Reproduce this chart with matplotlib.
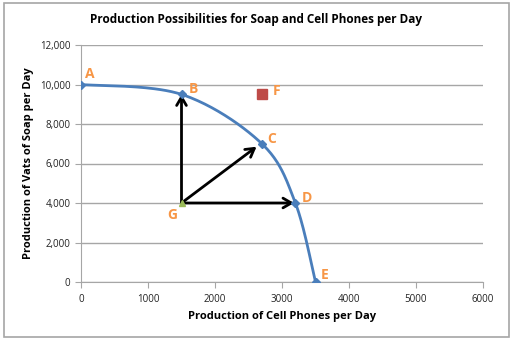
import numpy as np
import matplotlib
matplotlib.use("Agg")
import matplotlib.pyplot as plt
from matplotlib.patches import Rectangle
from matplotlib.ticker import FuncFormatter

# Data
ppf_labels = ["A", "B", "C", "D", "E"]
phones = [0, 1500, 2700, 3200, 3500]
soap = [10000, 9500, 7000, 4000, 0]
f_point = (2700, 9500)
g_point = (1500, 4000)
arrow_targets = [(1500, 9500), (2620, 6850), (3180, 4000)]

label_offsets = {"A": (9, 10), "B": (12, 5), "C": (10, 5), "D": (11, 5), "E": (9, 7)}

plt.rcParams['font.family'] = ['Open Sans', 'DejaVu Sans']

fig = plt.figure(figsize=(5.12, 3.59), dpi=100)
fig.patches.append(Rectangle((4/512, 1-337/359), 505/512, 334/359, transform=fig.transFigure,
                             fill=False, edgecolor='#A6A6A6', lw=1.2))
ax = fig.add_axes([81/512, 1-282/359, 402/512, 237/359])

# smooth curve (Bezier smoothing like Excel)
def smooth(xs, ys, n=40, t=0.5):
    xs = np.asarray(xs, float); ys = np.asarray(ys, float)
    P = np.column_stack([xs, ys])
    out = []
    for i in range(len(P)-1):
        p0 = P[i-1] if i > 0 else P[i]
        p1 = P[i]; p2 = P[i+1]
        p3 = P[i+2] if i+2 < len(P) else P[i+1]
        c1 = p1 + (p2 - p0) * t / 3
        c2 = p2 - (p3 - p1) * t / 3
        s = np.linspace(0, 1, n)[:, None]
        seg = (1-s)**3*p1 + 3*(1-s)**2*s*c1 + 3*(1-s)*s**2*c2 + s**3*p2
        out.append(seg if i == 0 else seg[1:])
    return np.vstack(out)

sx = 67/1000; sy = 19.75/1000
cur = smooth(np.array(phones)*sx, np.array(soap)*sy, t=0.5)
ax.plot(cur[:, 0]/sx, cur[:, 1]/sy, color='#4A7EBB', lw=2, zorder=3)
ax.plot(phones, soap, 'D', color='#4A7EBB', ms=4, zorder=4)

ax.plot([f_point[0]], [f_point[1]], 's', color='#BE4B48', ms=7, zorder=4)
ax.plot([g_point[0]], [g_point[1]], '^', color='#9BBB59', ms=5, zorder=4)

for tx, ty in arrow_targets:
    ax.annotate("", xy=(tx, ty), xytext=g_point,
                arrowprops=dict(arrowstyle='->,head_length=0.6,head_width=0.35', color='black', lw=2,
                                shrinkA=0, shrinkB=0), zorder=2)

lab_kw = dict(color='#F79646', fontsize=10, fontweight='bold', ha='center', va='center',
              textcoords='offset pixels', zorder=5)
for lab, x, y in zip(ppf_labels, phones, soap):
    ax.annotate(lab, (x, y), xytext=label_offsets[lab], **lab_kw)
ax.annotate("F", f_point, xytext=(15, 3), **lab_kw)
ax.annotate("G", g_point, xytext=(-9, -12), **lab_kw)

ax.set_xlim(0, 6000)
ax.set_ylim(0, 12000)
ax.set_xticks(range(0, 6001, 1000))
ax.set_yticks(range(0, 12001, 2000))
ax.yaxis.set_major_formatter(FuncFormatter(lambda v, p: f"{int(v):,}"))
ax.grid(axis='y', color='#A6A6A6', lw=1)
ax.set_axisbelow(True)
for s in ['top', 'right']:
    ax.spines[s].set_visible(False)
for s in ['left', 'bottom']:
    ax.spines[s].set_color('#A6A6A6')
ax.tick_params(colors='#A6A6A6', labelcolor='#222222', labelsize=7, length=4)
ax.tick_params(axis='x', pad=5)

ax.set_xlabel("Production of Cell Phones per Day", fontsize=8, fontweight='bold', labelpad=4)
ax.set_ylabel("Production of Vats of Soap per Day", fontsize=8, fontweight='bold', labelpad=4)
fig.text(256/512, 1-20/359, "Production Possibilities for Soap and Cell Phones per Day",
         fontsize=8.5, fontweight='bold', ha='center', va='center')

fig.savefig("out.png", dpi=100, facecolor='white')
